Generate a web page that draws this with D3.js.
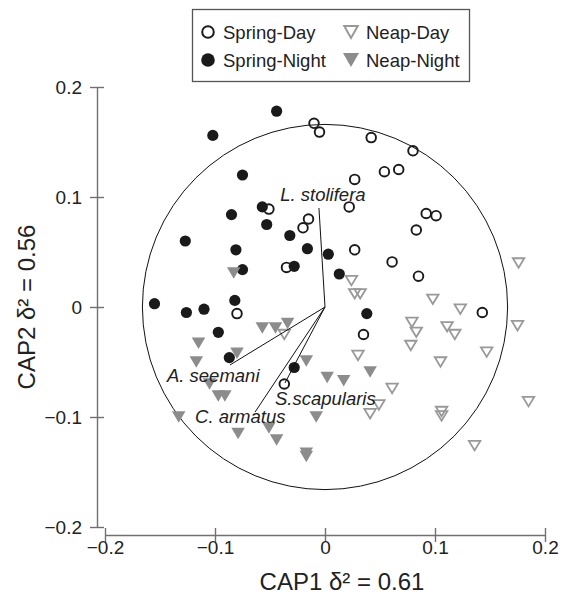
<!DOCTYPE html>
<html>
<head>
<meta charset="utf-8">
<title>CAP ordination</title>
<script src="https://d3js.org/d3.v7.min.js"></script>
<style>
  body { margin: 0; background: #fff; }
  text { font-family: "Liberation Sans", Arial, Helvetica, sans-serif; }
</style>
</head>
<body>
<div id="chart"></div>
<script>
// groups in legend order
let groups = ["Spring-Day", "Spring-Night", "Neap-Day", "Neap-Night"];

// CAP1 / CAP2 scores
let springDay = [
  [-0.010, 0.167], [-0.005, 0.159], [0.042, 0.154], [0.080, 0.142], [0.054, 0.123],
  [0.067, 0.125], [0.027, 0.116], [0.022, 0.091], [-0.051, 0.089], [-0.015, 0.080],
  [-0.020, 0.072], [0.092, 0.085], [0.101, 0.083], [0.083, 0.070], [0.027, 0.052],
  [-0.035, 0.036], [0.061, 0.041], [0.085, 0.028], [0.143, -0.005], [0.035, -0.025],
  [-0.037, -0.070], [-0.080, -0.006]
];
let springNight = [
  [-0.044, 0.178], [-0.102, 0.156], [-0.075, 0.120], [-0.057, 0.091], [-0.085, 0.084],
  [-0.053, 0.075], [-0.032, 0.065], [-0.127, 0.060], [-0.016, 0.053], [-0.081, 0.052],
  [0.003, 0.048], [-0.075, 0.034], [-0.028, 0.037], [0.013, 0.030], [-0.155, 0.003],
  [-0.082, 0.006], [-0.110, -0.002], [-0.126, -0.005], [-0.097, -0.023], [-0.087, -0.046],
  [-0.028, -0.055], [0.038, -0.006]
];
let neapDay = [
  [0.024, 0.024], [0.027, 0.012], [0.032, 0.012], [0.098, 0.007], [0.123, -0.002],
  [0.176, 0.040], [0.175, -0.017], [0.079, -0.014], [0.083, -0.023], [0.078, -0.035],
  [0.111, -0.018], [0.118, -0.025], [0.147, -0.041], [0.105, -0.050], [0.030, -0.044],
  [0.061, -0.074], [0.049, -0.089], [0.041, -0.097], [0.106, -0.095], [0.106, -0.099],
  [0.185, -0.086], [0.136, -0.126], [-0.037, -0.025]
];
let neapNight = [
  [-0.083, 0.031], [-0.057, -0.019], [-0.045, -0.019], [-0.034, -0.015], [-0.115, -0.033],
  [-0.080, -0.042], [-0.117, -0.050], [-0.105, -0.070], [-0.097, -0.081], [-0.091, -0.081],
  [-0.133, -0.100], [-0.079, -0.115], [-0.051, -0.110], [-0.044, -0.121], [-0.017, -0.049],
  [0.002, -0.064], [0.017, -0.067], [0.041, -0.059], [-0.008, -0.100], [-0.017, -0.133],
  [-0.017, -0.136]
];

// species vectors (end points)
let species = ["L. stolifera", "A. seemani", "C. armatus", "S.scapularis"];
let speciesX = [-0.0055, -0.0864, -0.0636, -0.0364];
let speciesY = [0.090, -0.0527, -0.0955, -0.0691];
let circleRadius = 0.166;

let xTicks = [-0.2, -0.1, 0, 0.1, 0.2];
let yTicks = [-0.2, -0.1, 0, 0.1, 0.2];
let tickLabels = ["\u22120.2", "\u22120.1", "0", "0.1", "0.2"];

let W = 564, H = 597;
let svg = d3.select("#chart").append("svg")
    .attr("width", W).attr("height", H);

let x = d3.scaleLinear().domain([-0.2, 0.2]).range([105, 545]);
let y = d3.scaleLinear().domain([-0.2, 0.2]).range([527, 87]);

let axisColor = "#707070";

// x axis (offset below the y range)
let gx = svg.append("g")
    .attr("transform", "translate(0,535)")
    .call(d3.axisBottom(x).tickValues(xTicks).tickSize(7).tickSizeOuter(0)
        .tickFormat((d, i) => tickLabels[i]));
gx.selectAll(".tick line").attr("y1", -7).attr("y2", 7);
gx.selectAll(".tick text").attr("y", 18.5).attr("dy", 0);

// y axis
let gy = svg.append("g")
    .attr("transform", "translate(97,0)")
    .call(d3.axisLeft(y).tickValues(yTicks).tickSize(7).tickSizeOuter(0).tickPadding(8)
        .tickFormat((d, i) => tickLabels[i]));
gy.selectAll(".tick line").attr("x1", -7).attr("x2", 7);

svg.selectAll(".domain, .tick line").attr("stroke", axisColor).attr("stroke-width", 1.4);
svg.selectAll(".tick text").attr("font-size", "19px").attr("fill", "#222")
    .style("font-family", "'Liberation Sans', Arial, sans-serif");

// axis titles
svg.append("text")
    .attr("x", 342).attr("y", 590)
    .attr("text-anchor", "middle")
    .attr("font-size", "24px").attr("fill", "#222")
    .text("CAP1 \u03B4\u00B2 = 0.61");
svg.append("text")
    .attr("transform", "translate(35,307) rotate(-90)")
    .attr("text-anchor", "middle")
    .attr("font-size", "24px").attr("fill", "#222")
    .text("CAP2 \u03B4\u00B2 = 0.56");

// correlation circle
svg.append("circle")
    .attr("cx", x(0)).attr("cy", y(0))
    .attr("r", x(circleRadius) - x(0))
    .attr("fill", "none").attr("stroke", "#111").attr("stroke-width", 1);

// markers
let tri = (w, h) => `M${-w / 2},${-h / 2}L${w / 2},${-h / 2}L0,${h / 2}Z`;
let black = "#1a1a1a", grayFill = "#8c8c8c", grayLine = "#999";

svg.append("g").selectAll("circle")
    .data(springDay).enter().append("circle")
    .attr("cx", d => x(d[0])).attr("cy", d => y(d[1]))
    .attr("r", 4.8).attr("fill", "none")
    .attr("stroke", black).attr("stroke-width", 1.9);

svg.append("g").selectAll("circle")
    .data(springNight).enter().append("circle")
    .attr("cx", d => x(d[0])).attr("cy", d => y(d[1]))
    .attr("r", 5.6).attr("fill", black);

svg.append("g").selectAll("path")
    .data(neapDay).enter().append("path")
    .attr("transform", d => "translate(" + x(d[0]) + "," + y(d[1]) + ")")
    .attr("d", tri(11.5, 9.5)).attr("fill", "none")
    .attr("stroke", grayLine).attr("stroke-width", 1.8);

svg.append("g").selectAll("path")
    .data(neapNight).enter().append("path")
    .attr("transform", d => "translate(" + x(d[0]) + "," + y(d[1]) + ")")
    .attr("d", tri(13.5, 11.5)).attr("fill", grayFill);

// species vectors
svg.append("g").selectAll("line")
    .data(species).enter().append("line")
    .attr("x1", x(0)).attr("y1", y(0))
    .attr("x2", (d, i) => x(speciesX[i])).attr("y2", (d, i) => y(speciesY[i]))
    .attr("stroke", "#111").attr("stroke-width", 1);

let labelOff = [[4, -7, "middle"], [-63, 17, "start"], [-60, 11, "start"], [-10, 22, "start"]];
svg.append("g").selectAll("text")
    .data(species).enter().append("text")
    .attr("x", (d, i) => x(speciesX[i]) + labelOff[i][0])
    .attr("y", (d, i) => y(speciesY[i]) + labelOff[i][1])
    .attr("text-anchor", (d, i) => labelOff[i][2])
    .attr("font-size", "18.5px").attr("font-style", "italic").attr("fill", "#222")
    .text(d => d);

// legend
let lg = svg.append("g");
lg.append("rect")
    .attr("x", 192.5).attr("y", 9.5).attr("width", 277).attr("height", 72)
    .attr("fill", "#fff").attr("stroke", "#555").attr("stroke-width", 1.3);
let legendPos = [[208, 32], [208, 60], [351, 32], [351, 60]];
groups.forEach((g, i) => {
  let p = legendPos[i];
  if (i === 0) {
    lg.append("circle").attr("cx", p[0]).attr("cy", p[1]).attr("r", 5.8)
      .attr("fill", "none").attr("stroke", black).attr("stroke-width", 2);
  } else if (i === 1) {
    lg.append("circle").attr("cx", p[0]).attr("cy", p[1]).attr("r", 6.8).attr("fill", black);
  } else if (i === 2) {
    lg.append("path").attr("transform", "translate(" + p[0] + "," + p[1] + ")")
      .attr("d", tri(13.5, 12)).attr("fill", "none").attr("stroke", grayLine).attr("stroke-width", 2);
  } else {
    lg.append("path").attr("transform", "translate(" + p[0] + "," + p[1] + ")")
      .attr("d", tri(16, 14)).attr("fill", grayFill);
  }
  lg.append("text")
    .attr("x", p[0] + 15).attr("y", p[1] + 6.5)
    .attr("font-size", "18.5px").attr("fill", "#222")
    .text(g);
});
</script>
</body>
</html>
